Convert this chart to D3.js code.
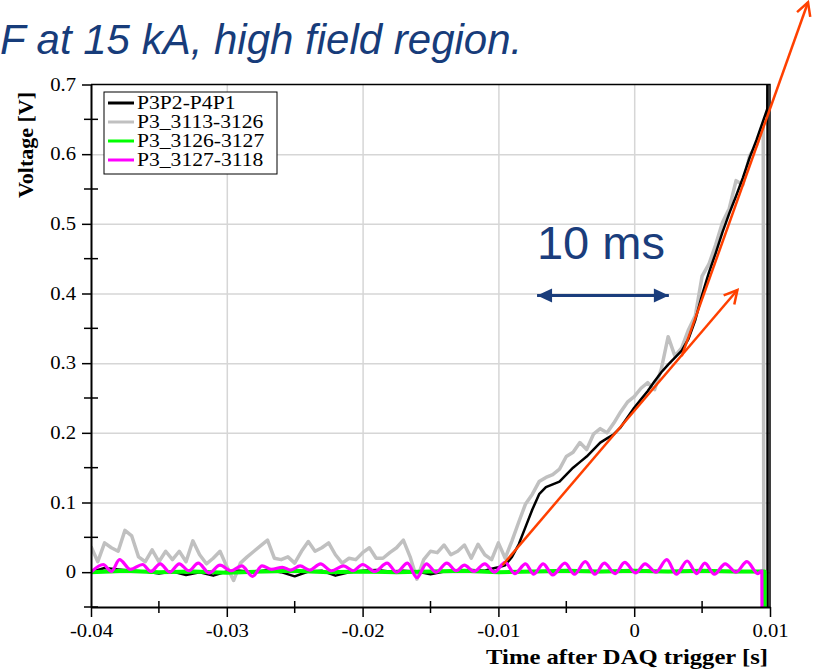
<!DOCTYPE html>
<html>
<head>
<meta charset="utf-8">
<script src="https://cdn.jsdelivr.net/npm/d3@7/dist/d3.min.js"></script>
<style>
  body { margin: 0; background: #fff; }
  .tick text { font-family: "Liberation Serif", "Times New Roman", serif; font-size: 18px; fill: #000; }
</style>
</head>
<body>
<svg width="813" height="669"></svg>
<script>
// ---- data (time in s, voltage in V) ----
var xTicks = [-0.04, -0.03, -0.02, -0.01, 0, 0.01];
var xTickLabels = ["-0.04", "-0.03", "-0.02", "-0.01", "0", "0.01"];
var xMinor = [-0.035, -0.025, -0.015, -0.005, 0.005];
var yTicks = [0, 0.1, 0.2, 0.3, 0.4, 0.5, 0.6, 0.7];
var yTickLabels = ["0", "0.1", "0.2", "0.3", "0.4", "0.5", "0.6", "0.7"];
var yMinor = [-0.05, 0.05, 0.15, 0.25, 0.35, 0.45, 0.55, 0.65];

var seriesNames = ["P3P2-P4P1", "P3_3113-3126", "P3_3126-3127", "P3_3127-3118"];
var seriesColors = ["#000000", "#c0c0c0", "#00ff00", "#ff00ff"];

var blackTime = [-0.040, -0.039, -0.038, -0.037, -0.036, -0.035, -0.034, -0.033, -0.032, -0.031,
  -0.030, -0.029, -0.028, -0.027, -0.026, -0.025, -0.024, -0.023, -0.022, -0.021,
  -0.020, -0.019, -0.018, -0.017, -0.016, -0.015, -0.014, -0.013, -0.012, -0.011,
  -0.0105, -0.0100, -0.0095, -0.0090, -0.0085, -0.0080, -0.0075, -0.0070, -0.0065, -0.0060,
  -0.0055, -0.0050, -0.0045, -0.0040, -0.0035, -0.0030, -0.0025, -0.0020, -0.0015, -0.0010,
  -0.0005, 0.0000, 0.0005, 0.0010, 0.0015, 0.0020, 0.0025, 0.0030, 0.0035, 0.0040,
  0.0045, 0.0050, 0.0055, 0.0060, 0.0065, 0.0070, 0.0075, 0.0080, 0.0085, 0.0090,
  0.0095, 0.0098, 0.00982, 0.00982];
var blackVolt = [0.000, 0.006, 0.004, 0.002, 0.001, -0.002, 0.001, -0.004, 0.000, -0.005,
  0.001, 0.002, 0.000, 0.003, 0.000, -0.006, 0.001, 0.002, -0.005, 0.000,
  0.002, 0.003, 0.001, 0.002, 0.001, -0.003, 0.001, 0.002, 0.003, 0.002,
  0.005, 0.007, 0.010, 0.022, 0.040, 0.065, 0.090, 0.112, 0.122, 0.126,
  0.130, 0.140, 0.150, 0.158, 0.166, 0.176, 0.186, 0.192, 0.198, 0.208,
  0.222, 0.236, 0.248, 0.260, 0.274, 0.287, 0.298, 0.308, 0.318, 0.335,
  0.362, 0.398, 0.430, 0.458, 0.488, 0.515, 0.540, 0.566, 0.595, 0.620,
  0.648, 0.665, 0.800, -0.100];

var grayTime = [-0.0400, -0.0395, -0.0390, -0.0385, -0.0380, -0.0375, -0.0370, -0.0365, -0.0360, -0.0355,
  -0.0350, -0.0345, -0.0340, -0.0335, -0.0330, -0.0325, -0.0320, -0.0315, -0.0310, -0.0305,
  -0.0300, -0.0295, -0.0290, -0.0285, -0.0280, -0.0275, -0.0270, -0.0265, -0.0260, -0.0255,
  -0.0250, -0.0245, -0.0240, -0.0235, -0.0230, -0.0225, -0.0220, -0.0215, -0.0210, -0.0205,
  -0.0200, -0.0195, -0.0190, -0.0185, -0.0180, -0.0175, -0.0170, -0.0165, -0.0160, -0.0155,
  -0.0150, -0.0145, -0.0140, -0.0135, -0.0130, -0.0125, -0.0120, -0.0115, -0.0110, -0.0105,
  -0.0100, -0.0095, -0.0090, -0.0085, -0.0080, -0.0075, -0.0070, -0.0065, -0.0060, -0.0055,
  -0.0050, -0.0045, -0.0040, -0.0035, -0.0030, -0.0025, -0.0020, -0.0015, -0.0010, -0.0005,
  0.0000, 0.0005, 0.0010, 0.0015, 0.0020, 0.0025, 0.0030, 0.0035, 0.0040, 0.0045,
  0.0050, 0.0055, 0.0060, 0.0065, 0.0070, 0.0075, 0.0080, 0.0085, 0.0090, 0.0095,
  0.00955];
var grayVolt = [0.037, 0.015, 0.042, 0.035, 0.030, 0.060, 0.052, 0.022, 0.015, 0.032,
  0.015, 0.030, 0.018, 0.030, 0.015, 0.045, 0.025, 0.012, 0.020, 0.030,
  0.008, -0.012, 0.013, 0.022, 0.030, 0.038, 0.046, 0.020, 0.018, 0.022,
  0.013, 0.030, 0.044, 0.030, 0.035, 0.042, 0.025, 0.013, 0.020, 0.018,
  0.028, 0.035, 0.020, 0.020, 0.028, 0.035, 0.046, 0.022, -0.010, 0.018,
  0.030, 0.028, 0.039, 0.025, 0.030, 0.039, 0.020, 0.040, 0.025, 0.018,
  0.042, 0.020, 0.045, 0.072, 0.098, 0.112, 0.130, 0.136, 0.140, 0.148,
  0.166, 0.172, 0.186, 0.176, 0.198, 0.206, 0.200, 0.214, 0.230, 0.244,
  0.252, 0.264, 0.272, 0.262, 0.292, 0.338, 0.310, 0.322, 0.348, 0.368,
  0.425, 0.442, 0.470, 0.502, 0.522, 0.562, 0.556, 0.598, 0.612, 0.642,
  -0.100];

var greenTime = [-0.040, -0.0375, -0.035, -0.0325, -0.030, -0.0275, -0.025, -0.0225, -0.020, -0.0175,
  -0.015, -0.0125, -0.010, -0.0075, -0.005, -0.0025, 0.000, 0.0025, 0.005, 0.0075,
  0.0095, 0.0096, 0.0096];
var greenVolt = [0.000, 0.002, 0.000, 0.001, -0.001, 0.001, 0.002, 0.000, 0.001, 0.000,
  0.001, 0.002, 0.000, 0.001, 0.002, 0.001, 0.002, 0.001, 0.002, 0.001,
  0.001, 0.001, -0.100];

var magentaTime = [-0.0400, -0.0391, -0.0385, -0.0379, -0.0371, -0.0362, -0.0356, -0.0349, -0.0342, -0.0335,
  -0.0328, -0.0321, -0.0313, -0.0305, -0.0297, -0.0289, -0.0281, -0.0274, -0.0267, -0.0259,
  -0.0253, -0.0246, -0.0239, -0.0231, -0.0223, -0.0214, -0.0207, -0.0200, -0.0191, -0.0182,
  -0.0175, -0.0167, -0.0160, -0.0153, -0.0146, -0.0138, -0.0131, -0.0125, -0.0118, -0.0110,
  -0.0103, -0.0095, -0.0088, -0.0080, -0.0074, -0.0067, -0.0060, -0.0051, -0.0044, -0.0036,
  -0.0029, -0.0022, -0.0014, -0.0007, 0.0001, 0.0008, 0.0016, 0.0024, 0.0031, 0.0039,
  0.0046, 0.0052, 0.0059, 0.0067, 0.0075, 0.0083, 0.0091, 0.0094, 0.00942];
var magentaVolt = [0.000, 0.011, 0.001, 0.018, 0.004, 0.011, 0.001, 0.012, 0.000, 0.012,
  0.002, 0.013, -0.001, 0.010, 0.002, 0.009, -0.006, 0.009, 0.004, 0.007,
  0.003, 0.009, 0.003, 0.012, 0.002, 0.009, 0.002, 0.011, 0.001, 0.013,
  0.000, 0.013, -0.008, 0.012, 0.000, 0.013, 0.002, 0.010, 0.001, 0.012,
  0.000, 0.014, -0.002, 0.012, -0.003, 0.012, -0.004, 0.013, -0.003, 0.015,
  -0.003, 0.013, -0.002, 0.014, -0.001, 0.012, 0.000, 0.018, -0.003, 0.016,
  -0.002, 0.013, -0.003, 0.012, 0.000, 0.015, -0.002, 0.002, -0.100];

// slide annotations (data coordinates)
var fitLow = [[-0.0097, 0.010], [0.0076, 0.405]];
var fitHigh = [[0.0035, 0.310], [0.0128, 0.818]];
var spanArrow = [[-0.0073, 0.397], [0.0027, 0.397]];
var spanLabel = "10 ms";
var titleText = "F at 15 kA, high field region.";

// the slide picture is a bit wider than tall, so serif texts get stretched sideways
function stretch (sel, k) {
  sel.each(function () {
    var w = this.getComputedTextLength();
    d3.select(this).attr("textLength", w * k).attr("lengthAdjust", "spacingAndGlyphs");
  });
}

function buildChart () {
  var svg = d3.select("svg"),
  left = 91, right = 770, top = 84.5, bottom = 607;

  var x = d3.scaleLinear().domain([-0.04, 0.01]).range([left, right]),
  y = d3.scaleLinear().domain([-0.05, 0.7]).range([bottom, top]);

  var defs = svg.append("defs");
  defs.append("clipPath").attr("id", "plotClip")
  .append("rect").attr("x", left).attr("y", top).attr("width", right - left).attr("height", bottom - top);

  defs.append("marker").attr("id", "openHead")
  .attr("viewBox", "-16 -9 18 18").attr("refX", 0).attr("refY", 0)
  .attr("markerWidth", 18).attr("markerHeight", 18)
  .attr("markerUnits", "userSpaceOnUse").attr("orient", "auto")
  .append("path").attr("d", "M-13,-7 L0,0 L-13,7")
  .attr("fill", "none").attr("stroke", "#ff4000").attr("stroke-width", 2.5);

  defs.append("marker").attr("id", "solidHead")
  .attr("viewBox", "-16 -8 16 16").attr("refX", 0).attr("refY", 0)
  .attr("markerWidth", 16).attr("markerHeight", 16)
  .attr("markerUnits", "userSpaceOnUse").attr("orient", "auto-start-reverse")
  .append("path").attr("d", "M-15,-7 L0,0 L-15,7 Z").attr("fill", "#1a3d7c");

  // title
  svg.append("text")
  .attr("x", 0).attr("y", 54)
  .style("font", "italic 42px 'Liberation Sans', Arial, sans-serif")
  .attr("fill", "#173c7a")
  .text(titleText);

  // grid
  svg.append("g")
  .attr("transform", "translate(0," + bottom + ")")
  .call(d3.axisBottom(x).tickValues(xTicks.slice(1, -1)).tickSize(-(bottom - top)).tickFormat(""))
  .call(function (g) { g.select(".domain").remove(); })
  .selectAll("line").attr("stroke", "#d6d6d6").attr("stroke-width", 1.5);

  svg.append("g")
  .attr("transform", "translate(" + left + ",0)")
  .call(d3.axisLeft(y).tickValues(yTicks.slice(0, -1)).tickSize(-(right - left)).tickFormat(""))
  .call(function (g) { g.select(".domain").remove(); })
  .selectAll("line").attr("stroke", "#d6d6d6").attr("stroke-width", 1.5);

  // series
  var plot = svg.append("g").attr("clip-path", "url(#plotClip)");
  var lineGen = d3.line()
  .x(function (d) { return x(d[0]); })
  .y(function (d) { return y(d[1]); });

  var series = [
    {times: blackTime, volts: blackVolt, width: 2.5, curve: d3.curveLinear},
    {times: grayTime, volts: grayVolt, width: 3.5, curve: d3.curveLinear},
    {times: greenTime, volts: greenVolt, width: 4, curve: d3.curveLinear},
    {times: magentaTime, volts: magentaVolt, width: 3.2, curve: d3.curveMonotoneX}
  ];
  // gray goes first so the black trace stays visible on top of it
  [1, 0, 2, 3].forEach(function (i) {
    var s = series[i];
    var pts = s.times.map(function (t, k) { return [t, s.volts[k]]; });
    plot.append("path")
    .attr("d", lineGen.curve(s.curve)(pts))
    .attr("fill", "none")
    .attr("stroke", seriesColors[i])
    .attr("stroke-width", s.width)
    .attr("stroke-linejoin", "round");
  });

  // frame
  svg.append("path")
  .attr("d", "M" + left + "," + top + "H" + right + "V" + bottom)
  .attr("fill", "none").attr("stroke", "#000").attr("stroke-width", 1.5);

  // axes
  var yAxis = svg.append("g")
  .attr("transform", "translate(" + left + ",0)")
  .call(d3.axisLeft(y).tickValues(yTicks).tickSizeInner(9).tickSizeOuter(0).tickPadding(6)
    .tickFormat(function (d, i) { return yTickLabels[i]; }));
  yAxis.select(".domain").attr("stroke-width", 2);
  yAxis.selectAll(".tick line").attr("stroke-width", 1.5);
  stretch(yAxis.selectAll(".tick text"), 1.15);

  var xAxis = svg.append("g")
  .attr("transform", "translate(0," + bottom + ")")
  .call(d3.axisBottom(x).tickValues(xTicks).tickSizeInner(10).tickSizeOuter(0).tickPadding(7)
    .tickFormat(function (d, i) { return xTickLabels[i]; }));
  xAxis.select(".domain").attr("stroke-width", 2);
  xAxis.selectAll(".tick line").attr("stroke-width", 1.5);
  stretch(xAxis.selectAll(".tick text"), 1.15);

  // minor ticks cross the axis
  svg.append("g").selectAll("line").data(yMinor).enter().append("line")
  .attr("x1", left - 7).attr("x2", left + 7)
  .attr("y1", function (d) { return y(d); }).attr("y2", function (d) { return y(d); })
  .attr("stroke", "#000").attr("stroke-width", 1.5);
  svg.append("g").selectAll("line").data(xMinor).enter().append("line")
  .attr("y1", bottom - 6).attr("y2", bottom + 6)
  .attr("x1", function (d) { return x(d); }).attr("x2", function (d) { return x(d); })
  .attr("stroke", "#000").attr("stroke-width", 1.5);

  // axis titles
  svg.append("text")
  .attr("transform", "translate(33,145) rotate(-90)")
  .attr("text-anchor", "middle")
  .style("font", "bold 22px 'Liberation Serif', 'Times New Roman', serif")
  .text("Voltage [V]");

  var xTitle = svg.append("text")
  .attr("x", right - 2).attr("y", 664)
  .attr("text-anchor", "end")
  .style("font", "bold 22px 'Liberation Serif', 'Times New Roman', serif")
  .text("Time after DAQ trigger [s]");
  stretch(xTitle, 1.12);

  // legend
  var legend = svg.append("g").attr("transform", "translate(104,92)");
  legend.append("rect").attr("width", 173).attr("height", 82)
  .attr("fill", "#fff").attr("stroke", "#000").attr("stroke-width", 1);
  var rows = legend.selectAll(".row").data(seriesNames).enter().append("g")
  .attr("class", "row")
  .attr("transform", function (d, i) { return "translate(0," + (11 + i * 19) + ")"; });
  rows.append("line").attr("x1", 4).attr("x2", 30)
  .attr("stroke", function (d, i) { return seriesColors[i]; })
  .attr("stroke-width", 3);
  var legendText = rows.append("text").attr("x", 33).attr("y", 6)
  .style("font", "18px 'Liberation Serif', 'Times New Roman', serif")
  .text(function (d) { return d; });
  stretch(legendText, 1.2);

  // red fit lines
  [fitLow, fitHigh].forEach(function (seg) {
    svg.append("line")
    .attr("x1", x(seg[0][0])).attr("y1", y(seg[0][1]))
    .attr("x2", x(seg[1][0])).attr("y2", y(seg[1][1]))
    .attr("stroke", "#ff4000").attr("stroke-width", 2.5)
    .attr("marker-end", "url(#openHead)");
  });

  // 10 ms span
  svg.append("line")
  .attr("x1", x(spanArrow[0][0]) + 2).attr("y1", y(spanArrow[0][1]))
  .attr("x2", x(spanArrow[1][0]) - 2).attr("y2", y(spanArrow[1][1]))
  .attr("stroke", "#1a3d7c").attr("stroke-width", 3)
  .attr("marker-start", "url(#solidHead)")
  .attr("marker-end", "url(#solidHead)");

  svg.append("text")
  .attr("x", (x(spanArrow[0][0]) + x(spanArrow[1][0])) / 2 - 2)
  .attr("y", y(0.45))
  .attr("text-anchor", "middle")
  .style("font", "47px 'Liberation Sans', Arial, sans-serif")
  .attr("fill", "#1a3d7c")
  .text(spanLabel);
}

buildChart();
</script>
</body>
</html>
